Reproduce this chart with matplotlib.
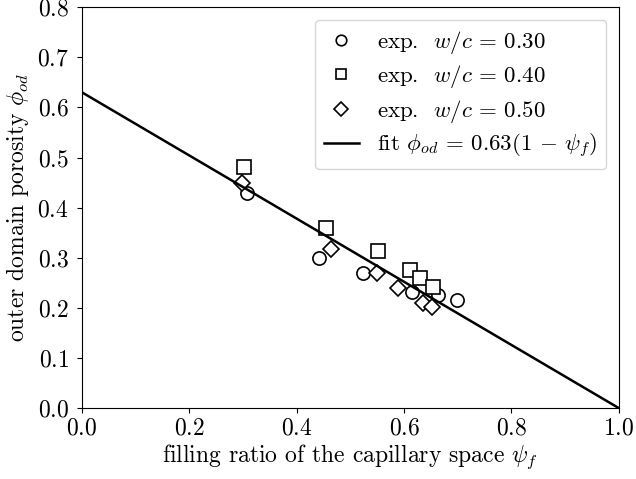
import numpy as np
import matplotlib
matplotlib.use("Agg")
import matplotlib.pyplot as plt

plt.rcParams['font.family'] = 'serif'
plt.rcParams['font.serif'] = ['cmr10']
plt.rcParams['mathtext.fontset'] = 'cm'
plt.rcParams['axes.formatter.use_mathtext'] = True

psi_030 = [0.307, 0.441, 0.523, 0.615, 0.663, 0.698]
phi_030 = [0.429, 0.299, 0.269, 0.232, 0.226, 0.216]
psi_040 = [0.302, 0.454, 0.551, 0.611, 0.629, 0.654]
phi_040 = [0.481, 0.359, 0.313, 0.275, 0.259, 0.242]
psi_050 = [0.298, 0.464, 0.549, 0.588, 0.635, 0.652]
phi_050 = [0.449, 0.317, 0.269, 0.240, 0.210, 0.202]
fit_coef = 0.63

fig = plt.figure(figsize=(6.36, 4.79), dpi=100)
ax = fig.add_axes([0.129, 0.148, 0.844, 0.837])

mk = dict(ls='none', mfc='white', mec='black', mew=1.2, ms=9.5)
ax.plot(psi_030, phi_030, marker='o', label=r'exp.  $w/c\,=\,0.30$', **mk)
ax.plot(psi_040, phi_040, marker='s', label=r'exp.  $w/c\,=\,0.40$', **mk)
ax.plot(psi_050, phi_050, marker='D', label=r'exp.  $w/c\,=\,0.50$', **dict(mk, ms=8.5))

x = np.array([0.0, 1.0])
ax.plot(x, fit_coef * (1 - x), color='black', lw=1.8,
        label=r'fit $\phi_{od}\,=\,0.63(1\,-\,\psi_f)$')

ax.set_xlim(0, 1)
ax.set_ylim(0, 0.8)
ax.set_xticks(np.arange(0, 1.01, 0.2))
ax.set_yticks(np.arange(0, 0.81, 0.1))
ax.tick_params(labelsize=17)
ax.tick_params(axis='y', pad=6)
ax.set_xlabel(r'filling ratio of the capillary space $\psi_f$', fontsize=17, labelpad=2)
ax.set_ylabel(r'outer domain porosity $\phi_{od}$', fontsize=17, labelpad=4)
ax.legend(loc='upper right', fontsize=16.5, markerscale=0.8, borderaxespad=0.55,
          handletextpad=0.8, labelspacing=0.32, handlelength=1.5)

fig.savefig('out.png', dpi=100)
